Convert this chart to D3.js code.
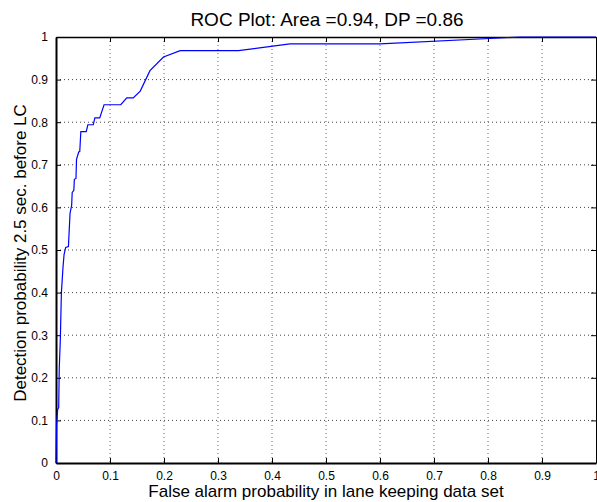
<!DOCTYPE html>
<html>
<head>
<meta charset="utf-8">
<script src="https://cdn.jsdelivr.net/npm/d3@7"></script>
<style>
  body { margin: 0; background: #fff; }
  svg { display: block; font-family: "Liberation Sans", Arial, sans-serif; }
</style>
</head>
<body>
<div id="chart"></div>
<script>
// ROC curve

const WIDTH = 597;
const HEIGHT = 502;
const MARGINS = {left: 56, right: 1, top: 37, bottom: 39};

// data
const falseAlarm = [0, 0.001, 0.003, 0.005, 0.006, 0.008, 0.010, 0.013, 0.015, 0.018,
  0.023, 0.026, 0.029, 0.030, 0.033, 0.034, 0.037, 0.038, 0.042, 0.044,
  0.046, 0.056, 0.059, 0.069, 0.072, 0.081, 0.089, 0.120, 0.131, 0.143,
  0.156, 0.174, 0.199, 0.230, 0.338, 0.433, 0.600, 0.860, 1.0];
const detection = [0, 0.09, 0.125, 0.13, 0.22, 0.29, 0.40, 0.46, 0.49, 0.506,
  0.508, 0.586, 0.605, 0.635, 0.64, 0.666, 0.668, 0.713, 0.73, 0.731,
  0.778, 0.778, 0.794, 0.794, 0.810, 0.810, 0.841, 0.841, 0.857, 0.857,
  0.873, 0.921, 0.953, 0.968, 0.968, 0.984, 0.984, 1.0, 1.0];
const xTicks = [0, 0.1, 0.2, 0.3, 0.4, 0.5, 0.6, 0.7, 0.8, 0.9, 1];
const yTicks = [0, 0.1, 0.2, 0.3, 0.4, 0.5, 0.6, 0.7, 0.8, 0.9, 1];
const titleText = 'ROC Plot: Area =0.94, DP =0.86';
const xLabel = 'False alarm probability in lane keeping data set';
const yLabel = 'Detection probability 2.5 sec. before LC';

const VIS_WIDTH = WIDTH - MARGINS.left - MARGINS.right;
const VIS_HEIGHT = HEIGHT - MARGINS.top - MARGINS.bottom;

const svg = d3.select('#chart')
  .append('svg')
    .attr('width', WIDTH)
    .attr('height', HEIGHT);

const xscale = d3.scaleLinear().domain([0, 1]).range([0, VIS_WIDTH]);
const yscale = d3.scaleLinear().domain([0, 1]).range([VIS_HEIGHT, 0]);

const g = svg.append('g')
  .attr('transform', 'translate(' + MARGINS.left + ',' + MARGINS.top + ')');

// dotted grid
g.append('g')
  .selectAll('line')
  .data(xTicks.slice(1, -1))
  .enter()
  .append('line')
    .attr('x1', d => xscale(d)).attr('x2', d => xscale(d))
    .attr('y1', 0).attr('y2', VIS_HEIGHT)
    .attr('stroke', '#666')
    .attr('stroke-width', 1)
    .attr('stroke-dasharray', '1,3');

g.append('g')
  .selectAll('line')
  .data(yTicks.slice(1, -1))
  .enter()
  .append('line')
    .attr('x1', 0).attr('x2', VIS_WIDTH)
    .attr('y1', d => yscale(d)).attr('y2', d => yscale(d))
    .attr('stroke', '#444')
    .attr('stroke-width', 1)
    .attr('stroke-dasharray', '1,3');

// axes with inward ticks
const xAxis = g.append('g')
  .attr('transform', 'translate(0,' + VIS_HEIGHT + ')')
  .call(d3.axisBottom(xscale).tickValues(xTicks).tickSizeInner(-5).tickSizeOuter(0)
    .tickPadding(8).tickFormat(d3.format('')));
xAxis.select('.domain').attr('stroke-width', 2);

g.append('g')
  .call(d3.axisTop(xscale).tickValues(xTicks).tickSizeInner(-5).tickSizeOuter(0)
    .tickFormat(''))
  .select('.domain').attr('stroke-width', 1.5);

const yAxis = g.append('g')
  .call(d3.axisLeft(yscale).tickValues(yTicks).tickSizeInner(-5).tickSizeOuter(0)
    .tickPadding(8).tickFormat(d3.format('')));
yAxis.select('.domain').attr('stroke-width', 2);

g.append('g')
  .attr('transform', 'translate(' + VIS_WIDTH + ',0)')
  .call(d3.axisRight(yscale).tickValues(yTicks).tickSizeInner(-5).tickSizeOuter(0)
    .tickFormat(''));

svg.selectAll('.tick text')
  .attr('font-size', '12px')
  .attr('fill', '#000')
  .attr('font-family', '"Liberation Sans", Arial, sans-serif');

// ROC curve
const points = falseAlarm.map((x, i) => [x, detection[i]]);
const line = d3.line()
  .x(d => xscale(d[0]))
  .y(d => yscale(d[1]));

g.append('path')
  .datum(points)
  .attr('d', line)
  .attr('fill', 'none')
  .attr('stroke', '#0000ff')
  .attr('stroke-width', 1.2);

// labels
svg.append('text')
  .attr('x', 327).attr('y', 26)
  .attr('text-anchor', 'middle')
  .attr('font-size', '19px')
  .text(titleText);

svg.append('text')
  .attr('x', 326).attr('y', 497)
  .attr('text-anchor', 'middle')
  .attr('font-size', '17px')
  .text(xLabel);

svg.append('text')
  .attr('transform', 'translate(26,' + (MARGINS.top + VIS_HEIGHT / 2 + 3) + ') rotate(-90)')
  .attr('text-anchor', 'middle')
  .attr('font-size', '17px')
  .text(yLabel);
</script>
</body>
</html>
